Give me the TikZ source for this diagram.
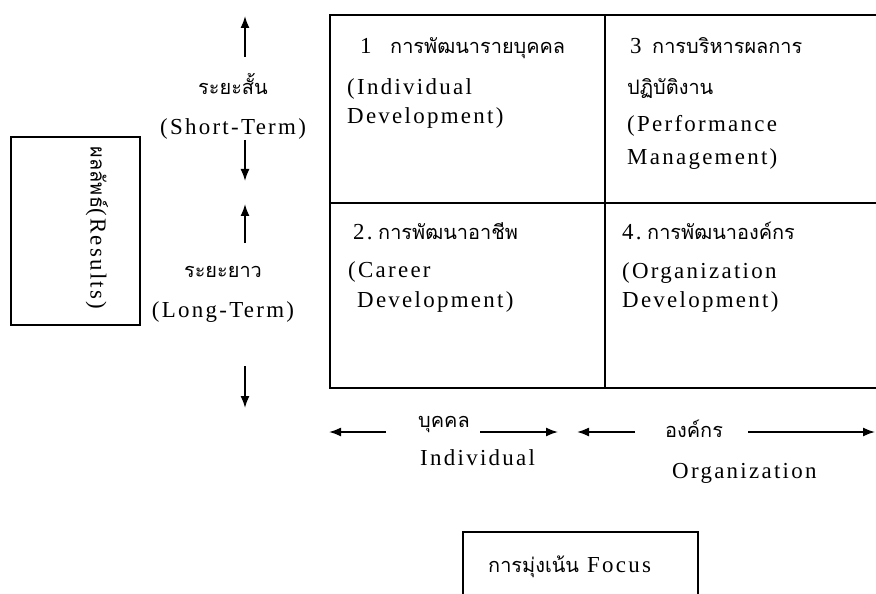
\documentclass[tikz,border=0pt]{standalone}
\usepackage{fontspec}
\setmainfont{Liberation Serif}[LetterSpace=10]
\newfontfamily\thai[Script=Thai]{Loma}
\usetikzlibrary{arrows.meta}
\newcommand\enfs{\fontsize{23}{27}\selectfont}
\newcommand\thfs{\thai\fontsize{20}{24}\selectfont}
\tikzset{
  en/.style={font=\enfs, inner sep=0pt, anchor=base west},
  th/.style={font=\thfs, inner sep=0pt, anchor=base west},
  enc/.style={en, anchor=base},
  thc/.style={th, anchor=base},
  gridline/.style={line width=1.4bp},
  boxline/.style={line width=1.2bp},
  arr/.style={-{Latex[length=12bp,width=9bp]}, line width=1.6bp},
}
\begin{document}
\begin{tikzpicture}[x=1bp,y=-1bp]
\useasboundingbox (0,0) rectangle (876,594);
\clip (0,0) rectangle (876,594);

% grid
\draw[gridline] (876,15) -- (330,15) -- (330,388) -- (876,388);
\draw[gridline] (330,203) -- (876,203);
\draw[gridline] (605,15) -- (605,388);

% cell 1
\node[en] (c1n) at (360,54) {1};
\node[th] (c1t) at (390,54) {การพัฒนารายบุคคล};
\node[en] (c1a) at (347,95) {(Individual};
\node[en] (c1b) at (347,124) {Development)};
% cell 3
\node[en] (c3n) at (630,54) {3};
\node[th] (c3t) at (652,54) {การบริหารผลการ};
\node[th] (c3u) at (627,95) {ปฏิบัติงาน};
\node[en] (c3a) at (627,132) {(Performance};
\node[en] (c3b) at (627,165) {Management)};
% cell 2
\node[en] (c2n) at (353,240) {2.};
\node[th] (c2t) at (378,240) {การพัฒนาอาชีพ};
\node[en] (c2a) at (348,277) {(Career};
\node[en] (c2b) at (357,307) {Development)};
% cell 4
\node[en] (c4n) at (622,240) {4.};
\node[th] (c4t) at (647,240) {การพัฒนาองค์กร};
\node[en] (c4a) at (622,278) {(Organization};
\node[en] (c4b) at (622,307) {Development)};

% results box
\draw[boxline] (11,137) rectangle (140,325);
\node[inner sep=0pt, rotate=-90] (res) at (97,228)
  {{\thfs ผลลัพธ์}{\enfs(Results)}};

% vertical labels and arrows
\node[thc] (st) at (233,95) {ระยะสั้น};
\node[enc] (se) at (233,135) {(Short-Term)};
\node[thc] (lt) at (223,277) {ระยะยาว};
\node[enc] (le) at (223,317) {(Long-Term)};
\coordinate (a1s) at (245,57);  \coordinate (a1e) at (245,16);
\coordinate (a2s) at (245,140); \coordinate (a2e) at (245,181);
\coordinate (a3s) at (245,243); \coordinate (a3e) at (245,204);
\coordinate (a4s) at (245,366); \coordinate (a4e) at (245,408);
\draw[arr] (a1s) -- (a1e);
\draw[arr] (a2s) -- (a2e);
\draw[arr] (a3s) -- (a3e);
\draw[arr] (a4s) -- (a4e);

% horizontal labels and arrows
\node[th] (ind) at (418,427) {บุคคล};
\node[en] (inde) at (420,465) {Individual};
\node[th] (org) at (665,437) {องค์กร};
\node[en] (orge) at (672,478) {Organization};
\coordinate (b1s) at (386,432); \coordinate (b1e) at (329,432);
\coordinate (b2s) at (480,432); \coordinate (b2e) at (558,432);
\coordinate (b3s) at (635,432); \coordinate (b3e) at (577,432);
\coordinate (b4s) at (748,432); \coordinate (b4e) at (875,432);
\draw[arr] (b1s) -- (b1e);
\draw[arr] (b2s) -- (b2e);
\draw[arr] (b3s) -- (b3e);
\draw[arr] (b4s) -- (b4e);

% focus box
\draw[boxline] (463,600) -- (463,532) -- (698,532) -- (698,600);
\node[inner sep=0pt, anchor=base west] (focus) at (488,572)
  {{\thfs การมุ่งเน้น}\enfs\ Focus};
\end{tikzpicture}
\end{document}
